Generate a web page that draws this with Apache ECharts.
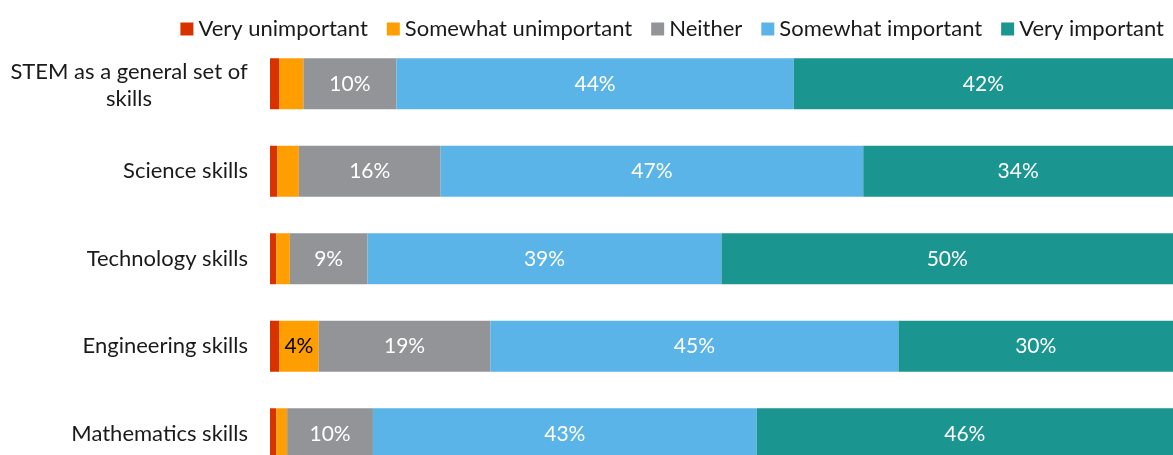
<!DOCTYPE html>
<html>
<head>
<meta charset="utf-8">
<script src="https://cdn.jsdelivr.net/npm/echarts@6/dist/echarts.min.js"></script>
<style>
html,body{margin:0;padding:0;background:#fff;}
#chart{width:1173px;height:455px;}
</style>
</head>
<body>
<div id="chart"></div>
<script>
const categories = ['STEM as a general set of\nskills', 'Science skills', 'Technology skills', 'Engineering skills', 'Mathematics skills'];
const seriesNames = ['Very unimportant', 'Somewhat unimportant', 'Neither', 'Somewhat important', 'Very important'];
const veryUnimportant = [1.0, 0.8, 0.7, 1.0, 0.7];
const somewhatUnimportant = [2.7, 2.4, 1.5, 4.4, 1.2];
const neither = [10.3, 15.7, 8.6, 19.0, 9.5];
const somewhatImportant = [44.0, 46.8, 39.2, 45.2, 42.5];
const veryImportant = [42.0, 34.3, 50.0, 30.4, 46.1];

const colors = ['#D83200', '#FF9E00', '#939497', '#5BB4E8', '#1B958F'];
const labelColors = ['#ffffff', '#000000', '#ffffff', '#ffffff', '#ffffff'];
const values = [veryUnimportant, somewhatUnimportant, neither, somewhatImportant, veryImportant];
const FONT = 'Lato';

const chart = echarts.init(document.getElementById('chart'));
chart.setOption({
  animation: false,
  textStyle: { fontFamily: FONT },
  legend: {
    top: 13, right: 4,
    itemWidth: 13, itemHeight: 13, itemGap: 19,
    icon: 'rect',
    textStyle: { fontSize: 22, color: '#1a1a1a', fontFamily: FONT },
    data: seriesNames
  },
  grid: { left: 270, right: 0, top: 40, height: 437.5, containLabel: false, outerBoundsMode: 'none' },
  xAxis: { type: 'value', min: 0, max: 100, show: false },
  yAxis: {
    type: 'category', inverse: true, data: categories,
    axisLine: { show: false }, axisTick: { show: false },
    axisLabel: {
      margin: 22, fontSize: 22, color: '#1a1a1a', fontFamily: FONT, lineHeight: 27,
      formatter: function (v) {
        if (v.indexOf('\n') >= 0) {
          return v.split('\n').map(s => '{c|' + s + '}').join('\n');
        }
        return v;
      },
      rich: { c: { width: 238, align: 'center', fontSize: 22, color: '#1a1a1a', fontFamily: FONT, lineHeight: 27, padding: [3, 0, 0, 0] } }
    }
  },
  series: seriesNames.map((name, i) => ({
    name: name, type: 'bar', stack: 'total', barWidth: 51,
    itemStyle: { color: colors[i] },
    label: {
      show: true, position: 'inside', fontSize: 21, fontFamily: FONT, color: labelColors[i],
      formatter: p => p.value >= 4 ? Math.round(p.value) + '%' : ''
    },
    emphasis: { disabled: true },
    data: values[i]
  }))
});
</script>
</body>
</html>
